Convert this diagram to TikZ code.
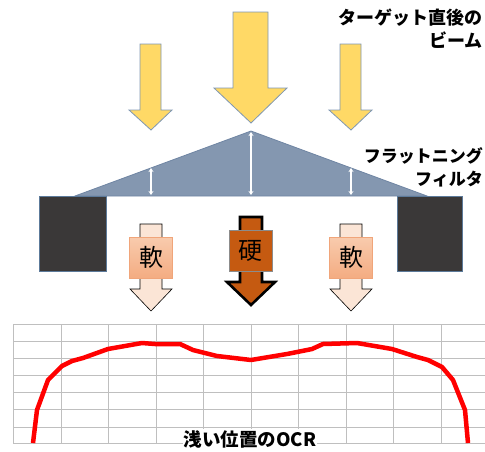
\documentclass[tikz,border=0pt]{standalone}
\usepackage{fontspec}
\usetikzlibrary{arrows.meta}
\newfontfamily\jp{Noto Sans CJK JP}
\tikzset{
  beam/.style={fill=beamyellow, draw=beamedge, line width=0.8pt, line join=miter},
  filter/.style={fill=filterblue, draw=filteredge, line width=0.8pt},
  block/.style={fill=blockdark, draw=blockedge, line width=0.8pt},
  softarrow/.style={fill=softfill, draw=black, line width=0.6pt},
  softbox/.style={top color=softtop, bottom color=softbot, draw=softedge, line width=0.6pt, minimum width=43pt, minimum height=41pt, inner sep=0pt, font=\jp\fontsize{24}{24}\selectfont},
  hardarrow/.style={fill=hardfill, draw=black, line width=2.6pt, line join=miter},
  hardbox/.style={fill=hardfill, draw=hardedge, line width=0.6pt, minimum width=43pt, minimum height=41pt, inner sep=0pt, font=\jp\fontsize{24}{24}\selectfont},
  dbl/.style={white, line width=1.4pt, {Stealth[length=4pt,width=5pt]}-{Stealth[length=4pt,width=5pt]}},
  gridline/.style={draw=gridgray, line width=1pt},
  ocr/.style={draw=red, line width=4.5pt, line join=round},
  lbl/.style={font=\jp\bfseries\fontsize{17}{23}\selectfont, align=right, inner sep=0pt}
}
\definecolor{beamyellow}{HTML}{FFD966}
\definecolor{beamedge}{HTML}{7F97B2}
\definecolor{filterblue}{HTML}{8497B0}
\definecolor{filteredge}{HTML}{6F85A3}
\definecolor{blockdark}{HTML}{3A3838}
\definecolor{blockedge}{HTML}{5C7A9A}
\definecolor{softfill}{HTML}{FBE5D6}
\definecolor{softtop}{HTML}{F8CBAD}
\definecolor{softbot}{HTML}{F4AC82}
\definecolor{softedge}{HTML}{F0A57A}
\definecolor{hardfill}{HTML}{C55A11}
\definecolor{hardedge}{HTML}{8C8C8C}
\definecolor{gridgray}{HTML}{BFBFBF}
\begin{document}
\begin{tikzpicture}[x=1pt,y=-1pt]
\useasboundingbox (0,0) rectangle (485,451);
% beams
\draw[beam] (233,12) -- (268,12) -- (268,88) -- (287,88) -- (251,123) -- (214,88) -- (233,88) -- cycle;
\draw[beam] (140,44) -- (161,44) -- (161,110) -- (172,110) -- (151,130) -- (129,110) -- (140,110) -- cycle;
\draw[beam] (340,44) -- (361,44) -- (361,110) -- (372,110) -- (351,130) -- (329,110) -- (340,110) -- cycle;
% labels
\node[lbl, anchor=north east, font=\jp\bfseries\fontsize{18}{23}\selectfont] (beamlbl) at (483,9) {ターゲット直後の\\ビーム};
\node[lbl, anchor=north east] (filterlbl) at (483,147) {フラットニング\\フィルタ};
% filter
\coordinate (apex) at (251,131);
\coordinate (bl) at (75,196);
\coordinate (br) at (427,196);
\draw[filter] (apex) -- (br) -- (bl) -- cycle;
\draw[dbl] (251,132) -- (251,195);
\draw[dbl] (151,168) -- (151,195);
\draw[dbl] (351,168) -- (351,195);
% blocks
\draw[block] (39,196) rectangle (106,271);
\draw[block] (397,196) rectangle (462,271);
% soft arrows
\foreach \cx in {151,351}{
  \draw[softarrow] (\cx-11,224) -- (\cx+11,224) -- (\cx+11,289) -- (\cx+21,289) -- (\cx,311) -- (\cx-21,289) -- (\cx-11,289) -- cycle;
  \node[softbox] at (\cx,257.5) {軟};
}
% hard arrow
\draw[hardarrow] (240,217) -- (262,217) -- (262,282) -- (275,282) -- (251,305) -- (227,282) -- (240,282) -- cycle;
\node[hardbox] (hard) at (250.5,250.5) {硬};
% grid
\foreach \gy in {324,341,358,375,392,409,427,443}{
  \draw[gridline] (13,\gy) -- (485,\gy);
}
\foreach \gx in {13,61,108,156,203,251,298,346,393,441}{
  \draw[gridline] (\gx,324) -- (\gx,443);
}
% OCR curve
\draw[ocr] (33,443) -- (37,410) -- (48,380) -- (62,366) -- (72,361) -- (83,358) -- (108,349) -- (142,343) -- (155,344) -- (180,344) -- (193,350) -- (217,356) -- (251,360) -- (287,354) -- (312,349) -- (323,344) -- (357,343) -- (392,349) -- (417,357) -- (428,360) -- (442,367) -- (453,380) -- (465,410) -- (468,443);
\node[font=\jp\bfseries\fontsize{18.5}{18.5}\selectfont, fill=white, inner sep=1pt] (ocrlbl) at (250,439) {浅い位置のOCR};
\end{tikzpicture}
\end{document}
